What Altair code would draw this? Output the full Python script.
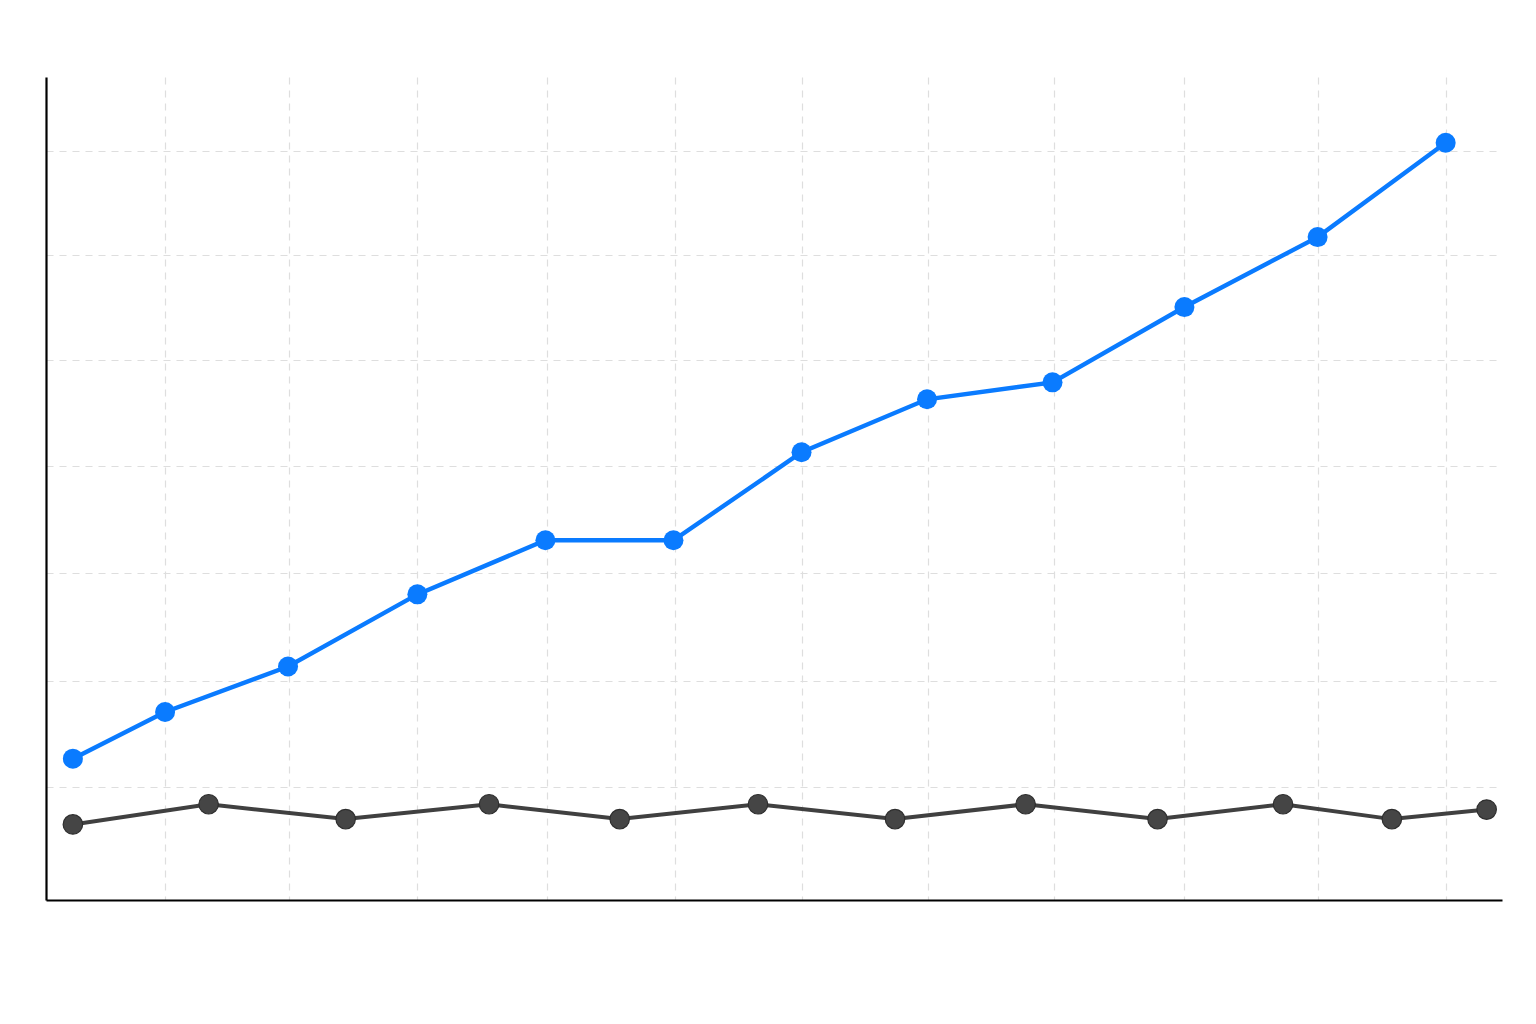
import altair as alt
import pandas as pd

# Values (arbitrary units; no labels shown in the original)
blue_x = [0.28, 1.00, 1.96, 2.97, 3.97, 4.97, 5.97, 6.95, 7.93, 8.96, 10.00, 11.00]
blue_y = [12.7, 17.1, 21.4, 28.2, 33.3, 33.3, 41.6, 46.6, 48.2, 55.3, 61.9, 70.8]

gray_x = [0.28, 1.34, 2.41, 3.53, 4.55, 5.63, 6.70, 7.72, 8.75, 9.73, 10.58, 11.32]
gray_y = [6.5, 8.4, 7.0, 8.4, 7.0, 8.4, 7.0, 8.4, 7.0, 8.4, 7.0, 7.9]

x_grid = [1.0, 1.97, 2.97, 3.98, 4.98, 5.97, 6.96, 7.94, 8.96, 10.0, 11.0]
y_grid = [10.0, 20.0, 30.2, 40.3, 50.3, 60.2, 70.0]

x_domain = [0.07, 11.44]
y_domain = [-0.63, 77.0]

blue_df = pd.DataFrame({"x": blue_x, "y": blue_y})
gray_df = pd.DataFrame({"x": gray_x, "y": gray_y})

grid_kw = dict(labels=False, ticks=False, title="",
               domainColor="#000000", domainWidth=2.2,
               grid=True, gridColor="#dedede", gridDash=[7, 6], gridWidth=1.2)

xenc = alt.X("x:Q", scale=alt.Scale(domain=x_domain, nice=False, zero=False),
             axis=alt.Axis(values=x_grid, **grid_kw))
yenc = alt.Y("y:Q", scale=alt.Scale(domain=y_domain, nice=False, zero=False),
             axis=alt.Axis(values=y_grid, **grid_kw))

blue_line = alt.Chart(blue_df).mark_line(color="#0A7BFF", strokeWidth=4.4).encode(
    x=xenc, y=yenc, order="x:Q")
blue_pts = alt.Chart(blue_df).mark_circle(color="#0A7BFF", size=400, opacity=1).encode(
    x="x:Q", y="y:Q")

gray_line = alt.Chart(gray_df).mark_line(color="#404040", strokeWidth=4).encode(
    x="x:Q", y="y:Q", order="x:Q")
gray_pts = alt.Chart(gray_df).mark_point(
    filled=True, fill="#454545", stroke="#2e2e2e", strokeWidth=1.2, size=380, opacity=1, shape="circle"
).encode(x="x:Q", y="y:Q")

chart = alt.layer(blue_line, gray_line, blue_pts, gray_pts).properties(
    width=1456, height=823,
    autosize=alt.AutoSizeParams(type="none"),
    padding={"left": 38, "top": 69, "right": 26, "bottom": 116},
    background="white",
).configure_view(stroke=None)

chart.save("out.html", embed_options={"renderer": "svg", "actions": False})
